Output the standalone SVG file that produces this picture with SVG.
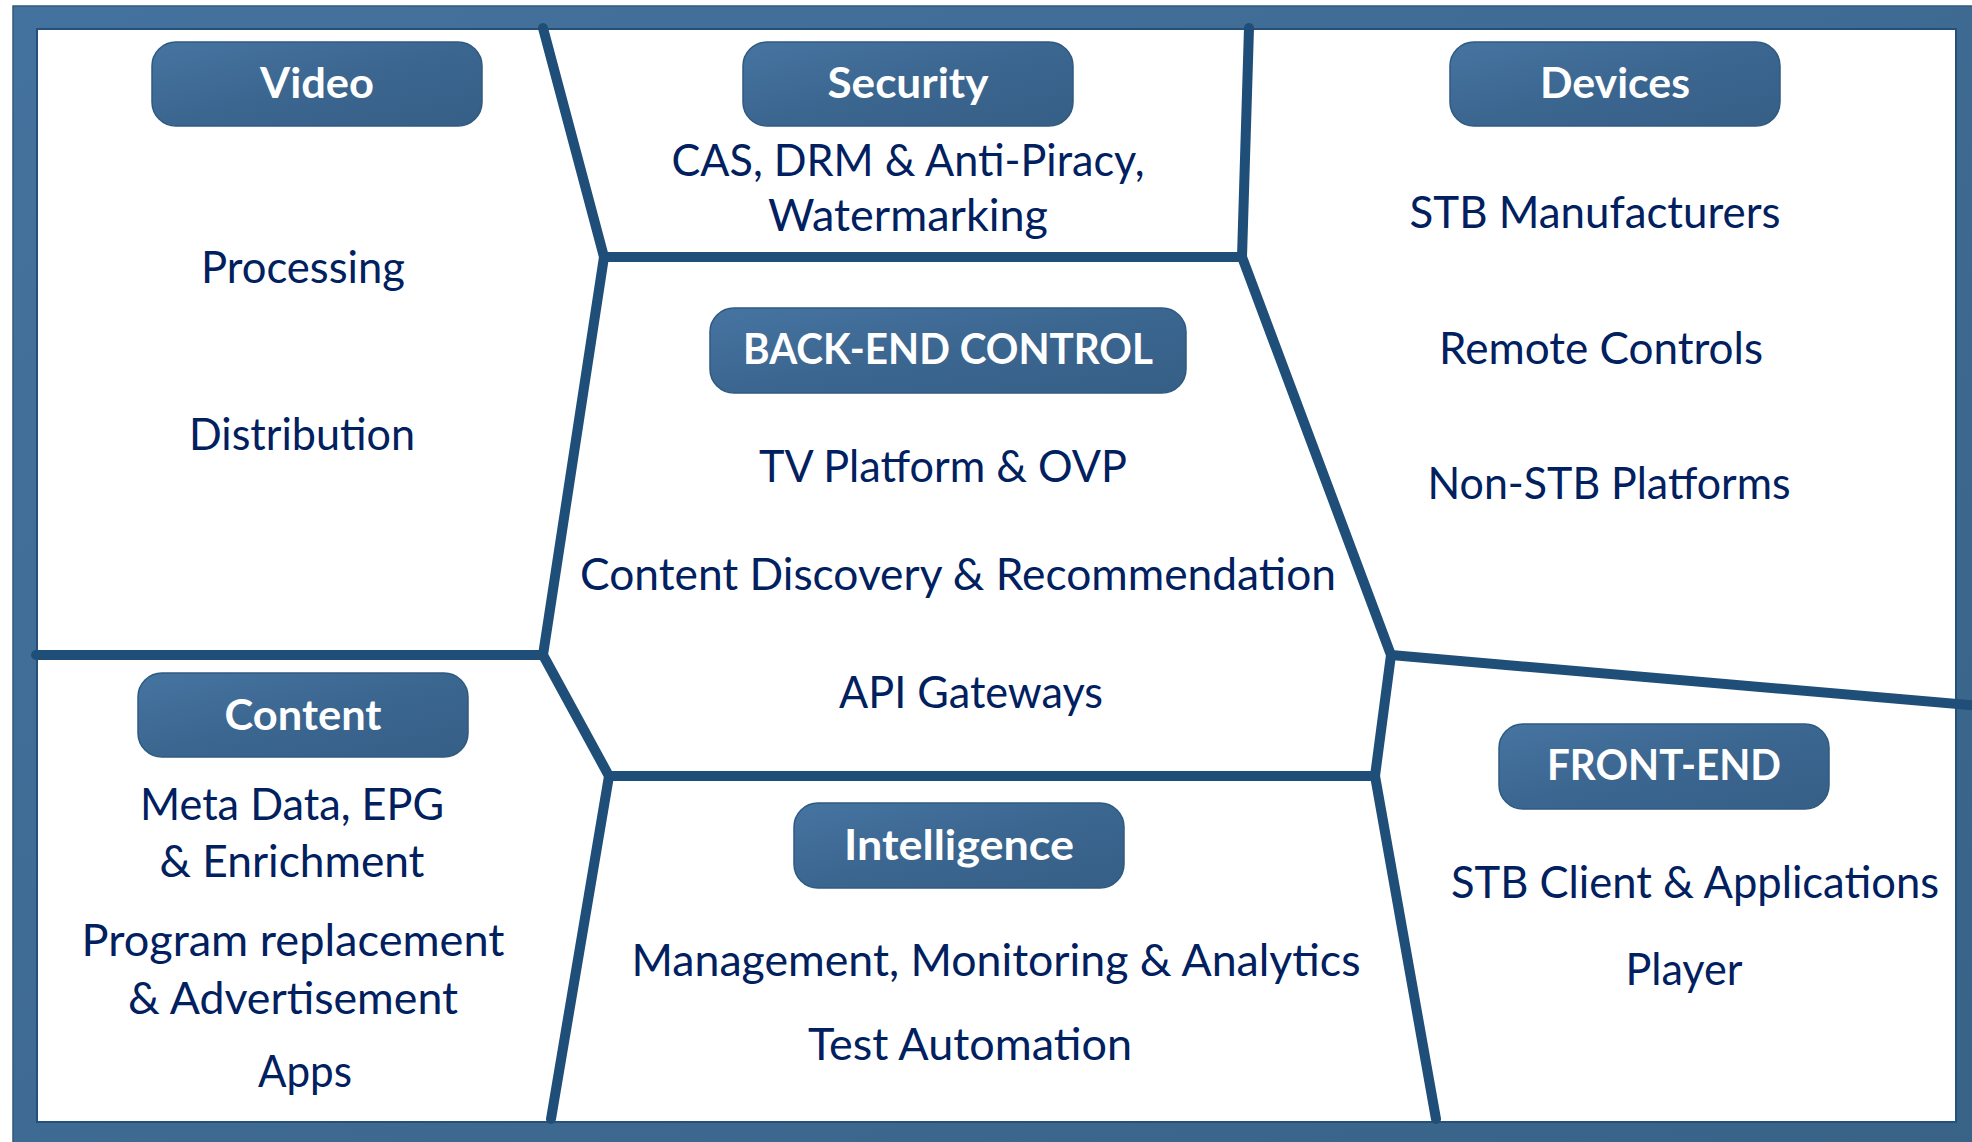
<svg xmlns="http://www.w3.org/2000/svg" width="1972" height="1142" viewBox="0 0 1972 1142">
<defs>
<linearGradient id="frameGrad" x1="0" y1="0" x2="1" y2="1">
<stop offset="0" stop-color="#44729e"/>
<stop offset="1" stop-color="#386387"/>
</linearGradient>
<linearGradient id="btnGrad" x1="0" y1="0" x2="1" y2="1">
<stop offset="0" stop-color="#4674a1"/>
<stop offset="0.5" stop-color="#3b6690"/>
<stop offset="1" stop-color="#365f86"/>
</linearGradient>
<style>
.btn{fill:url(#btnGrad);stroke:#2f5a80;stroke-width:1.5}
.ttl{font-family:Lato,"Open Sans",sans-serif;font-weight:bold;font-size:42px;fill:#ffffff;text-anchor:middle}
.txt{font-family:Lato,"Open Sans",sans-serif;font-size:44px;fill:#002060;text-anchor:middle}
.div{fill:none;stroke:#1f4e79;stroke-width:10;stroke-linecap:round;stroke-linejoin:miter}
</style>
</defs>
<rect x="13" y="6" width="1980" height="1160" fill="url(#frameGrad)" stroke="#33597d" stroke-width="1.5"/>
<rect x="37" y="29" width="1919" height="1093" fill="#ffffff" stroke="#24507a" stroke-width="2"/>
<g id="connectors">
<polyline class="div" points="543,28 604,257 543,655 609,776 551,1119"/>
<line class="div" x1="604" y1="257" x2="1242" y2="257"/>
<polyline class="div" points="1249,28 1242,257 1391,655 1375,776 1436,1119"/>
<line class="div" x1="36" y1="655" x2="543" y2="655"/>
<line class="div" x1="609" y1="776" x2="1375" y2="776"/>
<line class="div" x1="1391" y1="655" x2="1980" y2="706"/>
</g>
<g id="video">
<rect class="btn" x="152" y="42" width="330" height="84" rx="24"/>
<text class="ttl" x="317" y="98" textLength="114" lengthAdjust="spacingAndGlyphs">Video</text>
<text class="txt" x="303" y="283" textLength="204" lengthAdjust="spacingAndGlyphs">Processing</text>
<text class="txt" x="302" y="450" textLength="226" lengthAdjust="spacingAndGlyphs">Distribution</text>
</g>
<g id="security">
<rect class="btn" x="743" y="42" width="330" height="84" rx="24"/>
<text class="ttl" x="908" y="98" textLength="161" lengthAdjust="spacingAndGlyphs">Security</text>
<text class="txt" x="908" y="176" textLength="473" lengthAdjust="spacingAndGlyphs">CAS, DRM &amp; Anti-Piracy,</text>
<text class="txt" x="908" y="231" textLength="280" lengthAdjust="spacingAndGlyphs">Watermarking</text>
</g>
<g id="devices">
<rect class="btn" x="1450" y="42" width="330" height="84" rx="24"/>
<text class="ttl" x="1615" y="98" textLength="150" lengthAdjust="spacingAndGlyphs">Devices</text>
<text class="txt" x="1595" y="228" textLength="371" lengthAdjust="spacingAndGlyphs">STB Manufacturers</text>
<text class="txt" x="1601" y="364" textLength="324" lengthAdjust="spacingAndGlyphs">Remote Controls</text>
<text class="txt" x="1609" y="499" textLength="363" lengthAdjust="spacingAndGlyphs">Non-STB Platforms</text>
</g>
<g id="backend">
<rect class="btn" x="710" y="308" width="476" height="85" rx="24"/>
<text class="ttl" x="948" y="364" textLength="410" lengthAdjust="spacingAndGlyphs">BACK-END CONTROL</text>
<text class="txt" x="943" y="482" textLength="368" lengthAdjust="spacingAndGlyphs">TV Platform &amp; OVP</text>
<text class="txt" x="958" y="590" textLength="756" lengthAdjust="spacingAndGlyphs">Content Discovery &amp; Recommendation</text>
<text class="txt" x="971" y="708" textLength="264" lengthAdjust="spacingAndGlyphs">API Gateways</text>
</g>
<g id="content">
<rect class="btn" x="138" y="673" width="330" height="84" rx="24"/>
<text class="ttl" x="303" y="730" textLength="157" lengthAdjust="spacingAndGlyphs">Content</text>
<text class="txt" x="292" y="820" textLength="304" lengthAdjust="spacingAndGlyphs">Meta Data, EPG</text>
<text class="txt" x="292" y="877" textLength="265" lengthAdjust="spacingAndGlyphs">&amp; Enrichment</text>
<text class="txt" x="293" y="956" textLength="423" lengthAdjust="spacingAndGlyphs">Program replacement</text>
<text class="txt" x="293" y="1014" textLength="330" lengthAdjust="spacingAndGlyphs">&amp; Advertisement</text>
<text class="txt" x="305" y="1087" textLength="94" lengthAdjust="spacingAndGlyphs">Apps</text>
</g>
<g id="intelligence">
<rect class="btn" x="794" y="803" width="330" height="85" rx="24"/>
<text class="ttl" x="959" y="860" textLength="230" lengthAdjust="spacingAndGlyphs">Intelligence</text>
<text class="txt" x="996" y="976" textLength="729" lengthAdjust="spacingAndGlyphs">Management, Monitoring &amp; Analytics</text>
<text class="txt" x="970" y="1060" textLength="324" lengthAdjust="spacingAndGlyphs">Test Automation</text>
</g>
<g id="frontend">
<rect class="btn" x="1499" y="724" width="330" height="85" rx="24"/>
<text class="ttl" x="1664" y="780" textLength="234" lengthAdjust="spacingAndGlyphs">FRONT-END</text>
<text class="txt" x="1695" y="898" textLength="488" lengthAdjust="spacingAndGlyphs">STB Client &amp; Applications</text>
<text class="txt" x="1684" y="985" textLength="117" lengthAdjust="spacingAndGlyphs">Player</text>
</g>
</svg>
